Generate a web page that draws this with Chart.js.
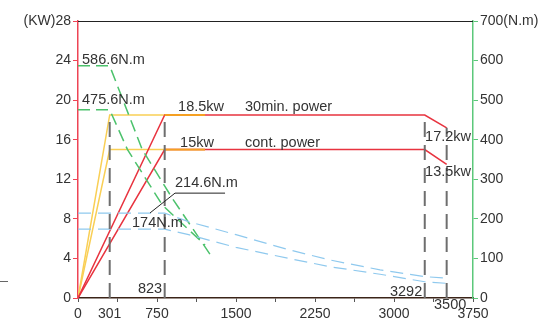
<!DOCTYPE html>
<html>
<head>
<meta charset="utf-8">
<script src="https://cdn.jsdelivr.net/npm/chart.js@4"></script>
<style>
  html, body { margin: 0; padding: 0; background: #fff; }
  canvas { display: block; }
</style>
</head>
<body>
<canvas id="motorChart" width="540" height="324"></canvas>
<script>
// power curves (kW) vs speed (rpm)
const powerRpm = [0, 823, 3292, 3500];
const power30min = [0, 18.5, 18.5, 17.2];
const powerCont = [0, 15, 15, 13.5];
const rampRpm = [0, 301, 1206];
const ramp30min = [0, 18.5, 18.5];
const rampCont = [0, 15, 15];
const overlapRpm = [823, 1206];

// torque curves (N.m)
const lowTorqueRpm = [0, 823, 1050, 1500, 2000, 2393, 2868, 3292, 3500];
const lowTorque30min = [214.6, 214.6, 193, 160, 122, 96, 71, 54, 50];
const lowTorqueCont = [174, 174, 160, 128, 100, 79, 60, 41, 37];
const highRpm30min = [0, 301, 610, 900, 1280];
const highTorque30min = [586.6, 586.6, 375, 250, 100];
const highRpmCont = [0, 301, 470, 800, 1206];
const highTorqueCont = [475.6, 475.6, 375, 235, 134];

// vertical markers
const markerRpm = [301, 823, 3292, 3500];
const markerTop = [18.5, 18.5, 18.5, 17.2];

// axis ticks
const xTickValues = [0, 301, 375, 750, 1125, 1500, 1875, 2250, 2625, 3000, 3375, 3750];
const xTickLabels = [0, 301, 750, 1500, 2250, 3000, 3750];

const pts = (xs, ys) => xs.map((x, i) => ({ x: x, y: ys[i] }));

const notes = [
    { text: '586.6N.m', x: 38, y: 24.1 },
    { text: '475.6N.m', x: 38, y: 20.06 },
    { text: '18.5kw', x: 950, y: 19.35 },
    { text: '30min. power', x: 1586, y: 19.35 },
    { text: '15kw', x: 969, y: 15.7 },
    { text: 'cont. power', x: 1586, y: 15.7 },
    { text: '214.6N.m', x: 921, y: 11.65 },
    { text: '174N.m', x: 513, y: 7.6 },
    { text: '17.2kw', x: 3295, y: 16.3 },
    { text: '13.5kw', x: 3295, y: 12.77 },
    { text: '823', x: 684, y: 0.91, center: true },
    { text: '3292', x: 3115, y: 0.6, center: true },
    { text: '3500', x: 3533, y: -0.7, center: true }
];
const leader = [[684, 8.6], [921, 10.6], [1396, 10.6]];

const FAMILY = "'Liberation Sans', Arial, sans-serif";
const TEXT = '#333';

const extras = {
    id: 'extras',
    afterDraw(chart) {
        const c = chart.ctx, xs = chart.scales.x, ys = chart.scales.y;
        const a = chart.chartArea;
        c.save();
        // top border
        c.strokeStyle = '#222';
        c.lineWidth = 1;
        c.beginPath();
        c.moveTo(a.left, a.top + 0.5);
        c.lineTo(a.right, a.top + 0.5);
        c.stroke();
        // leader line for 214.6
        c.beginPath();
        leader.forEach((p, i) => {
            const px = xs.getPixelForValue(p[0]), py = ys.getPixelForValue(p[1]);
            i ? c.lineTo(px, py) : c.moveTo(px, py);
        });
        c.stroke();
        // stray mark at left edge
        c.strokeStyle = '#666';
        c.beginPath();
        c.moveTo(0, 281.5);
        c.lineTo(8, 281.5);
        c.stroke();
        // text notes
        c.font = '14.5px ' + FAMILY;
        c.fillStyle = TEXT;
        c.textBaseline = 'middle';
        notes.forEach(n => {
            c.textAlign = n.center ? 'center' : 'left';
            c.fillText(n.text, xs.getPixelForValue(n.x), ys.getPixelForValue(n.y));
        });
        c.restore();
    }
};

const line = (data, color, width, dash, axis, order) => ({
    data: data,
    borderColor: color,
    borderWidth: width,
    borderDash: dash || [],
    pointRadius: 0,
    fill: false,
    tension: 0,
    yAxisID: axis,
    order: order
});

const datasets = [
    line(pts(rampRpm, ramp30min), '#f9cf55', 1.5, null, 'y', 9),
    line(pts(rampRpm, rampCont), '#f9cf55', 1.5, null, 'y', 9),
    line(pts(powerRpm, power30min), '#e8333f', 1.5, null, 'y', 8),
    line(pts(powerRpm, powerCont), '#e8333f', 1.5, null, 'y', 8),
    line(pts(overlapRpm, [18.5, 18.5]), '#f5a022', 1.8, null, 'y', 7),
    line(pts(overlapRpm, [15, 15]), '#f5a022', 1.8, null, 'y', 7),
    line(pts(highRpm30min, highTorque30min), '#4cc26c', 1.5, [12, 6], 'y2', 6),
    line(pts(highRpmCont, highTorqueCont), '#4cc26c', 1.5, [12, 6], 'y2', 6),
    line(pts(lowTorqueRpm, lowTorque30min), '#8fc9ee', 1.2, [13, 7], 'y2', 5),
    line(pts(lowTorqueRpm, lowTorqueCont), '#8fc9ee', 1.2, [13, 7], 'y2', 5)
];
markerRpm.forEach((r, i) => {
    datasets.push(line(pts([r, r], [0, markerTop[i]]), '#6e6e6e', 2, [15, 8], 'y', 1));
});

new Chart(document.getElementById('motorChart').getContext('2d'), {
    type: 'line',
    data: { datasets: datasets },
    plugins: [extras],
    options: {
        responsive: false,
        animation: false,
        layout: { padding: { top: 21, left: 0, right: 0, bottom: 0 } },
        plugins: { legend: { display: false }, tooltip: { enabled: false } },
        scales: {
            x: {
                type: 'linear',
                min: 0,
                max: 3750,
                afterBuildTicks: s => { s.ticks = xTickValues.map(v => ({ value: v })); },
                afterFit: s => { s.height = 26; },
                border: { color: '#3b2418', width: 1.5 },
                grid: {
                    drawOnChartArea: false,
                    tickLength: 4,
                    color: ctx => (ctx.tick && ctx.tick.value === 301) ? 'rgba(0,0,0,0)' : '#555'
                },
                ticks: {
                    autoSkip: false,
                    maxRotation: 0,
                    padding: 4,
                    color: TEXT,
                    font: { family: FAMILY, size: 14 },
                    callback: v => xTickLabels.includes(v) ? String(v) : ''
                }
            },
            y: {
                position: 'left',
                min: 0,
                max: 28,
                afterFit: s => { s.width = 78; },
                border: { color: '#ee4455', width: 1.5 },
                grid: { drawOnChartArea: false, tickLength: 5, color: '#ee4455' },
                ticks: {
                    stepSize: 4,
                    padding: 2,
                    color: TEXT,
                    font: { family: FAMILY, size: 14 },
                    callback: v => v === 28 ? '(KW)28' : String(v)
                }
            },
            y2: {
                position: 'right',
                min: 0,
                max: 700,
                afterFit: s => { s.width = 67; },
                border: { color: '#5cc87a', width: 1.5 },
                grid: { drawOnChartArea: false, tickLength: 5, color: '#5cc87a' },
                ticks: {
                    stepSize: 100,
                    padding: 2,
                    color: TEXT,
                    font: { family: FAMILY, size: 14 },
                    callback: v => v === 700 ? '700(N.m)' : String(v)
                }
            }
        }
    }
});
</script>
</body>
</html>
